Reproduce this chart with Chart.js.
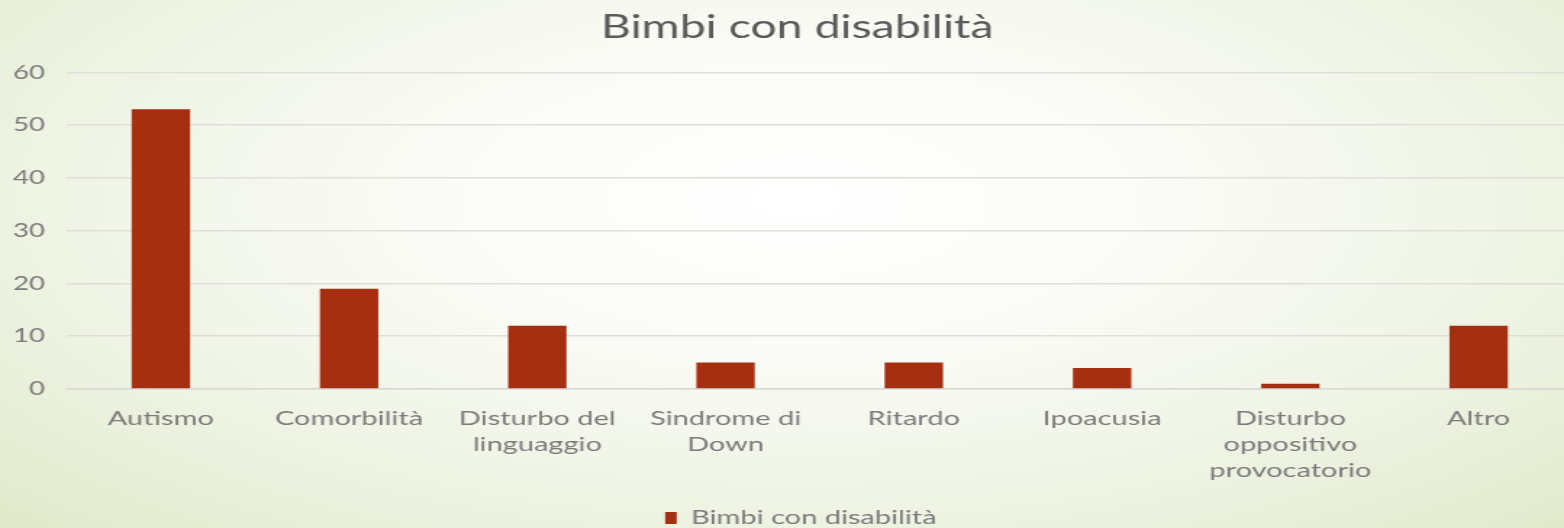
<!DOCTYPE html>
<html lang="it">
<head>
<meta charset="utf-8">
<title>Bimbi con disabilità</title>
<script src="https://cdn.jsdelivr.net/npm/chart.js@4.4.1/dist/chart.umd.min.js"></script>
<style>
    html, body {
        margin: 0;
        padding: 0;
        width: 1564px;
        height: 528px;
        overflow: hidden;
    }
    body {
        background: radial-gradient(ellipse 70% 85% at 51% 38%, #ffffff 0%, #fbfcf8 30%, #eef3e3 70%, #e2eacd 100%);
    }
    /* il grafico originale e' stirato in orizzontale e tagliato a destra e in basso */
    #chart {
        display: block;
        transform: scaleX(1.4495);
        transform-origin: 0 0;
    }
</style>
</head>
<body>
<canvas id="chart" width="1085" height="538"></canvas>
<script>
// Dati del grafico
const categories = [
    'Autismo',
    'Comorbilità',
    ['Disturbo del', 'linguaggio'],
    ['Sindrome di', 'Down'],
    'Ritardo',
    'Ipoacusia',
    ['Disturbo', 'oppositivo', 'provocatorio'],
    'Altro'
];
const values = [53, 19, 12, 5, 5, 4, 1, 12];
const yTicks = [0, 10, 20, 30, 40, 50, 60];
const seriesName = 'Bimbi con disabilità';

const fontFamily = 'Lato, "DejaVu Sans", sans-serif';
const barColor = '#a52f10';
const textGrey = '#7b7b7b';

// Sposta titolo e legenda un po' a destra, come nell'originale
const shiftBlocks = {
    id: 'shiftBlocks',
    afterLayout(chart) {
        const move = (box, dx) => {
            if (!box) return;
            box.left += dx;
            box.right += dx;
        };
        move(chart.titleBlock, 7.5);
        move(chart.legend, 10);
    }
};

const ctx = document.getElementById('chart');

new Chart(ctx, {
    type: 'bar',
    data: {
        labels: categories,
        datasets: [{
            label: seriesName,
            data: values,
            backgroundColor: barColor,
            borderWidth: 0,
            categoryPercentage: 1,
            barPercentage: 0.31
        }]
    },
    plugins: [shiftBlocks],
    options: {
        responsive: false,
        animation: false,
        layout: {
            padding: 0
        },
        plugins: {
            title: {
                display: true,
                text: 'Bimbi con disabilità',
                color: '#5a5a5a',
                font: { family: fontFamily, size: 32, weight: 'normal' },
                padding: { top: 8, bottom: 26 }
            },
            legend: {
                display: true,
                position: 'bottom',
                labels: {
                    color: textGrey,
                    font: { family: fontFamily, size: 20 },
                    boxWidth: 8,
                    boxHeight: 12,
                    padding: 1
                }
            },
            tooltip: { enabled: false }
        },
        scales: {
            x: {
                grid: { display: false, drawTicks: false },
                border: { display: true, color: '#d8d8d4', width: 1.5 },
                ticks: {
                    color: textGrey,
                    font: { family: fontFamily, size: 20, lineHeight: 1.3 },
                    padding: 17,
                    maxRotation: 0,
                    autoSkip: false
                },
                afterFit: axis => {
                    axis.height += 6;
                }
            },
            y: {
                min: yTicks[0],
                max: yTicks[yTicks.length - 1],
                afterBuildTicks: axis => {
                    axis.ticks = yTicks.map(v => ({ value: v }));
                },
                afterFit: axis => {
                    axis.width = 46;
                },
                grid: {
                    color: '#dfdfda',
                    lineWidth: 1.5,
                    drawTicks: false
                },
                border: { display: false },
                ticks: {
                    color: textGrey,
                    font: { family: fontFamily, size: 19 },
                    padding: 15
                }
            }
        }
    }
});
</script>
</body>
</html>
